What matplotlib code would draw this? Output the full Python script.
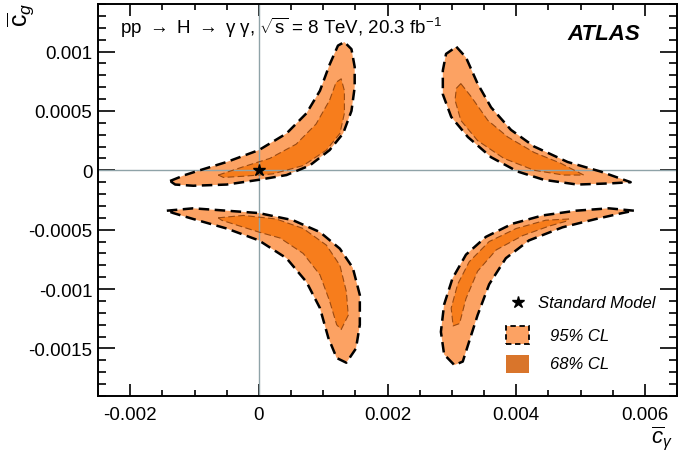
import numpy as np
import matplotlib
matplotlib.use("Agg")
import matplotlib.pyplot as plt
from matplotlib.patches import Polygon, Rectangle
from matplotlib.ticker import MultipleLocator, FuncFormatter

plt.rcParams['font.family'] = ['Liberation Sans', 'DejaVu Sans']
plt.rcParams['mathtext.fontset'] = 'custom'
plt.rcParams['mathtext.rm'] = 'Liberation Sans'
plt.rcParams['mathtext.it'] = 'Liberation Sans:italic'
plt.rcParams['mathtext.bf'] = 'Liberation Sans:bold'

# contour outlines, units of 1e-3
ul_outer_x = [-1.38, -1.15, -0.92, -0.50, 0.00, 0.43, 0.74, 0.95, 1.10, 1.23, 1.33, 1.44, 1.49, 1.49, 1.44, 1.31, 1.10, 0.79, 0.43, 0.00, -0.50, -1.02, -1.30]
ul_outer_y = [-0.09, -0.04, 0.00, 0.07, 0.17, 0.31, 0.48, 0.67, 0.89, 1.05, 1.08, 1.02, 0.87, 0.70, 0.50, 0.31, 0.17, 0.04, -0.04, -0.08, -0.12, -0.13, -0.12]
ul_inner_x = [-0.63, -0.24, 0.17, 0.58, 0.89, 1.10, 1.20, 1.28, 1.33, 1.33, 1.26, 1.05, 0.69, 0.22, -0.24, -0.55]
ul_inner_y = [-0.04, 0.03, 0.10, 0.22, 0.39, 0.59, 0.74, 0.77, 0.67, 0.48, 0.31, 0.17, 0.04, -0.03, -0.05, -0.06]

ur_outer_x = [3.07, 3.22, 3.40, 3.61, 3.92, 4.28, 4.80, 5.31, 5.78, 5.47, 4.95, 4.43, 4.02, 3.61, 3.25, 2.99, 2.86, 2.86, 2.91]
ur_outer_y = [1.04, 0.95, 0.73, 0.53, 0.34, 0.20, 0.07, -0.01, -0.10, -0.11, -0.12, -0.08, -0.01, 0.11, 0.28, 0.45, 0.64, 0.84, 0.98]
ur_inner_x = [3.14, 3.30, 3.56, 3.87, 4.28, 4.69, 5.05, 4.74, 4.28, 3.81, 3.40, 3.14, 3.05, 3.07]
ur_inner_y = [0.73, 0.62, 0.42, 0.28, 0.15, 0.06, -0.04, -0.04, 0.00, 0.10, 0.25, 0.42, 0.59, 0.69]

ll_outer_x = [-1.43, -1.02, -0.50, 0.00, 0.53, 0.95, 1.26, 1.46, 1.57, 1.57, 1.51, 1.36, 1.21, 1.08, 0.95, 0.74, 0.43, 0.00, -0.50, -1.02, -1.33]
ll_outer_y = [-0.34, -0.32, -0.34, -0.36, -0.42, -0.52, -0.66, -0.82, -1.05, -1.30, -1.50, -1.62, -1.58, -1.41, -1.16, -0.94, -0.74, -0.59, -0.49, -0.41, -0.36]
ll_inner_x = [-0.63, -0.24, 0.27, 0.69, 1.05, 1.26, 1.36, 1.39, 1.28, 1.21, 1.10, 0.95, 0.69, 0.33, 0.00, -0.35, -0.58]
ll_inner_y = [-0.40, -0.38, -0.41, -0.49, -0.63, -0.80, -1.02, -1.22, -1.34, -1.30, -1.10, -0.88, -0.70, -0.57, -0.52, -0.46, -0.42]

lr_outer_x = [5.83, 5.44, 4.93, 4.41, 3.94, 3.53, 3.22, 3.01, 2.88, 2.83, 2.88, 3.04, 3.17, 3.27, 3.40, 3.58, 3.84, 4.20, 4.72, 5.24, 5.65]
lr_outer_y = [-0.34, -0.32, -0.34, -0.38, -0.45, -0.56, -0.71, -0.91, -1.13, -1.36, -1.55, -1.64, -1.61, -1.44, -1.22, -0.96, -0.74, -0.59, -0.48, -0.41, -0.36]
lr_inner_x = [4.82, 4.46, 4.00, 3.58, 3.27, 3.09, 2.99, 3.02, 3.12, 3.22, 3.40, 3.69, 4.10, 4.51, 4.77]
lr_inner_y = [-0.41, -0.42, -0.49, -0.60, -0.77, -0.96, -1.16, -1.31, -1.29, -1.08, -0.85, -0.67, -0.55, -0.47, -0.43]

sm_point = (0.0, 0.0)

outer_shapes = [(ul_outer_x, ul_outer_y), (ur_outer_x, ur_outer_y),
                (ll_outer_x, ll_outer_y), (lr_outer_x, lr_outer_y)]
inner_shapes = [(ul_inner_x, ul_inner_y), (ur_inner_x, ur_inner_y),
                (ll_inner_x, ll_inner_y), (lr_inner_x, lr_inner_y)]

c95 = '#fca263'
c68 = '#f77d1c'
c68_leg = '#d9752b'

fig = plt.figure(figsize=(6.97, 4.52), dpi=100)
ax = fig.add_axes([98/697, 1-397/452, 579/697, 392/452])

def pts(xs, ys):
    return np.column_stack([np.array(xs)*1e-3, np.array(ys)*1e-3])

for xs, ys in outer_shapes:
    ax.add_patch(Polygon(pts(xs, ys), closed=True, facecolor=c95, edgecolor='none', zorder=1))
for xs, ys in inner_shapes:
    ax.add_patch(Polygon(pts(xs, ys), closed=True, facecolor=c68, edgecolor='none', zorder=1.5))

ax.axhline(0, color='#8fa3a8', lw=1.0, zorder=2)
ax.axvline(0, color='#8fa3a8', lw=1.0, zorder=2)

for xs, ys in inner_shapes:
    ax.add_patch(Polygon(pts(xs, ys), closed=True, facecolor='none', edgecolor='#9a4a12',
                         lw=0.8, linestyle=(0, (6, 3)), joinstyle='round', zorder=3))
for xs, ys in outer_shapes:
    ax.add_patch(Polygon(pts(xs, ys), closed=True, facecolor='none', edgecolor='black',
                         lw=1.8, linestyle=(0, (4.2, 2.2)), joinstyle='round', zorder=3))

ax.plot([sm_point[0]], [sm_point[1]], marker='*', color='black', ms=9, ls='none', zorder=4)

ax.set_xlim(-0.0025, 0.0065)
ax.set_ylim(-0.0019, 0.0014)

ax.xaxis.set_major_locator(MultipleLocator(0.002))
ax.xaxis.set_minor_locator(MultipleLocator(0.0005))
ax.yaxis.set_major_locator(MultipleLocator(0.0005))
ax.yaxis.set_minor_locator(MultipleLocator(0.0001))
fmt = FuncFormatter(lambda v, p: '0' if abs(v) < 1e-12 else '{:g}'.format(round(v, 6)))
ax.xaxis.set_major_formatter(fmt)
ax.yaxis.set_major_formatter(fmt)

ax.tick_params(which='both', direction='in', top=True, right=True, width=1.2,
               labelsize=13.5)
ax.tick_params(axis='x', which='major', length=8.5, pad=7)
ax.tick_params(axis='x', which='minor', length=4.5)
ax.tick_params(axis='y', which='major', length=12, pad=4)
ax.tick_params(axis='y', which='minor', length=6)
for s in ax.spines.values():
    s.set_linewidth(1.4)

fig.text(21/697, 1-3/452, r'$\overline{\mathrm{c}}_{g}$', rotation=90,
         ha='center', va='top', fontsize=18)
fig.text(673/697, 1-424/452, r'$\overline{c}_{\gamma}$', ha='right', va='top', fontsize=16)

arrow = r'${\rightarrow}$'
fig.text(120/697, 1-28/452,
         'pp ' + arrow + ' H ' + arrow + ' \u03b3 \u03b3, ' + r'$\sqrt{\mathrm{s}}$'
         + ' = 8 TeV, 20.3 fb' + r'$^{\mathrm{-1}}$',
         ha='left', va='center', fontsize=13.5)
fig.text(640/697, 1-35/452, 'ATLAS', ha='right', va='center',
         fontsize=16, fontweight='bold', fontstyle='italic')

# legend
ax.plot([518/697], [1-303/452], marker='*', color='black', ms=9, ls='none',
        transform=fig.transFigure, clip_on=False)
fig.text(538/697, 1-304/452, 'Standard Model', ha='left', va='center',
         fontsize=12, fontstyle='italic')
fig.patches.append(Rectangle((506/697, 1-345/452), 23/697, 18/452, transform=fig.transFigure,
                             facecolor=c95, edgecolor='black', lw=1.3, linestyle=(0, (3, 2))))
fig.text(550/697, 1-337/452, '95% CL', ha='left', va='center', fontsize=12, fontstyle='italic')
fig.patches.append(Rectangle((506/697, 1-374/452), 23/697, 18/452, transform=fig.transFigure,
                             facecolor=c68_leg, edgecolor='none'))
fig.text(550/697, 1-365/452, '68% CL', ha='left', va='center', fontsize=12, fontstyle='italic')

fig.savefig('out.png', dpi=100)
